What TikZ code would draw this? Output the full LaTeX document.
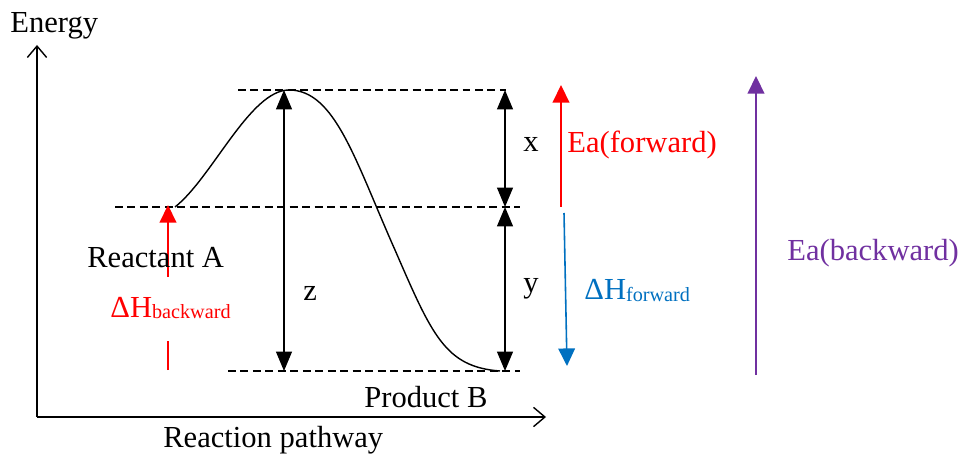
\documentclass[tikz,border=0pt]{standalone}
\usepackage{fontspec}
\setmainfont{Liberation Serif}
\usetikzlibrary{arrows.meta}
\definecolor{eared}{RGB}{255,0,0}
\definecolor{dhblue}{RGB}{0,112,192}
\definecolor{eapurple}{RGB}{112,48,160}
\newcommand{\subtxt}[1]{{\fontsize{11.5}{13}\selectfont\raisebox{-1pt}{#1}}}

\begin{document}
\begin{tikzpicture}[
  x=0.02cm,y=-0.02cm,
  >={Triangle[length=11pt,width=9pt]},
  lbl/.style={font=\fontsize{17.4}{20}\selectfont,inner sep=0pt,anchor=base west},
  level/.style={dash pattern=on 4.5pt off 2.6pt,line width=0.8pt},
  gap/.style={<->,line width=0.9pt},
  axis/.style={-{Straight Barb[length=6.5pt,width=11pt]},line width=0.8pt},
  erow/.style={->,line width=0.9pt,>={Triangle[length=10pt,width=9.5pt]}}
]
  \useasboundingbox (0,0) rectangle (963,462);

  % axes
  \coordinate (o) at (37,417);
  \coordinate (ytip) at (37,45);
  \coordinate (xtip) at (546,417);
  \draw[axis] (o) -- (ytip);
  \draw[axis] (o) -- (xtip);
  \node[lbl] (energy) at (10,33) {Energy};
  \node[lbl] (path) at (163,447) {Reaction pathway};

  % energy levels
  \coordinate (ts) at (238,90);   \coordinate (te) at (506,90);
  \coordinate (ms) at (115,207);  \coordinate (me) at (520,207);
  \coordinate (bs) at (228,371);  \coordinate (be) at (520,371);
  \draw[level] (ts) -- (te);
  \draw[level] (ms) -- (me);
  \draw[level] (bs) -- (be);

  % reaction profile
  \coordinate (ra) at (175,207);
  \coordinate (peak) at (289,90);
  \coordinate (pb) at (500,371);
  \draw[line width=0.8pt] (ra) .. controls (212,178) and (250,90) .. (peak)
    .. controls (335,90) and (355,160) .. (395,250)
    .. controls (432,335) and (445,367) .. (pb);

  % gaps x, y, z
  \coordinate (zt) at (284,90);  \coordinate (zb) at (284,371);
  \coordinate (gt) at (505,90);  \coordinate (gm) at (505,207);
  \coordinate (gb) at (505,371);
  \draw[gap] (zt) -- (zb);
  \draw[gap] (gt) -- (gm);
  \draw[gap] (gm) -- (gb);
  \node[lbl] (zlab) at (303,301) {z};
  \node[lbl] (xlab) at (523,152) {x};
  \node[lbl] (ylab) at (523,293) {y};

  % activation energies and enthalpies
  \coordinate (ef0) at (561,207);  \coordinate (ef1) at (561,85);
  \draw[erow,eared] (ef0) -- (ef1);
  \node[lbl,text=eared] (eaf) at (567,153) {Ea(forward)};

  \coordinate (hf0) at (564,213);  \coordinate (hf1) at (567,366);
  \draw[erow,dhblue] (hf0) -- (hf1);
  \node[lbl,text=dhblue] (dhf) at (584,300) {ΔH\subtxt{forward}};

  \coordinate (eb0) at (756,375);  \coordinate (eb1) at (756,76);
  \draw[erow,eapurple] (eb0) -- (eb1);
  \node[lbl,text=eapurple] (eab) at (787,261) {Ea(backward)};

  \coordinate (hb0) at (168,370);  \coordinate (hb1) at (168,341);
  \coordinate (hb2) at (168,277);  \coordinate (hb3) at (168,205);
  \draw[line width=0.9pt,eared] (hb0) -- (hb1);
  \draw[erow,eared] (hb2) -- (hb3);
  \node[lbl,text=eared] (dhb) at (110,317) {ΔH\subtxt{backward}};

  \node[lbl] (reac) at (87,268) {Reactant A};
  \node[lbl] (prod) at (364,407) {Product B};
\end{tikzpicture}
\end{document}
